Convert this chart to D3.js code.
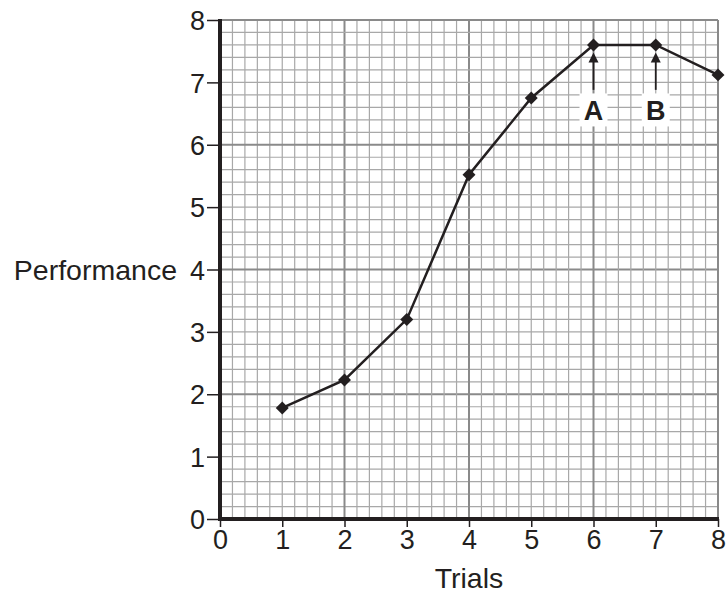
<!DOCTYPE html>
<html>
<head>
<meta charset="utf-8">
<script src="https://cdn.jsdelivr.net/npm/d3@7"></script>
<style>
  body { margin: 0; background: #fff; }
  svg { display: block; font-family: "Liberation Sans", Arial, sans-serif; }
</style>
</head>
<body>
<svg id="chart" width="727" height="594"></svg>
<script>
const trials = [1, 2, 3, 4, 5, 6, 7, 8];
const performance = [1.78, 2.23, 3.2, 5.52, 6.75, 7.6, 7.6, 7.12];
const xTicks = [0, 1, 2, 3, 4, 5, 6, 7, 8];
const yTicks = [0, 1, 2, 3, 4, 5, 6, 7, 8];
const markers = [
  { label: "A", x: 6, tip: 7.48, tail: 6.88, text: 6.55 },
  { label: "B", x: 7, tip: 7.48, tail: 6.88, text: 6.55 }
];

const ink = "#231f20";
const svg = d3.select("#chart");
const x = d3.scaleLinear().domain([0, 8]).range([220, 718]);
const y = d3.scaleLinear().domain([0, 8]).range([519, 20]);

// graph paper: minor every 0.2, major every 2
const minor = d3.range(0, 8.001, 0.2).map(v => +v.toFixed(1));
const grid = svg.append("g");
minor.forEach(v => {
  const major = Math.abs(v % 2) < 1e-6 || Math.abs(v % 2 - 2) < 1e-6;
  const stroke = major ? "#8a8a8a" : "#a8a8a8";
  const sw = major ? 2 : 1.2;
  grid.append("line")
    .attr("x1", x(v)).attr("x2", x(v)).attr("y1", y(0)).attr("y2", y(8))
    .attr("stroke", stroke).attr("stroke-width", sw);
  grid.append("line")
    .attr("x1", x(0)).attr("x2", x(8)).attr("y1", y(v)).attr("y2", y(v))
    .attr("stroke", stroke).attr("stroke-width", sw);
});

// axes
const xAxis = svg.append("g")
  .attr("transform", `translate(0,${y(0)})`)
  .call(d3.axisBottom(x).tickValues(xTicks).tickFormat(d3.format("d")).tickSize(8).tickPadding(3));
const yAxis = svg.append("g")
  .attr("transform", `translate(${x(0)},0)`)
  .call(d3.axisLeft(y).tickValues(yTicks).tickFormat(d3.format("d")).tickSize(13).tickPadding(2));

[xAxis, yAxis].forEach(g => {
  g.select(".domain").remove();
  g.selectAll(".tick line").attr("stroke", ink).attr("stroke-width", 1.5);
  g.selectAll(".tick text").attr("fill", ink).style("font-size", "27px");
});
yAxis.selectAll(".tick text").attr("dy", "0.36em");

svg.append("line")
  .attr("x1", x(0)).attr("x2", x(0)).attr("y1", y(8) - 1).attr("y2", y(0) + 2)
  .attr("stroke", ink).attr("stroke-width", 4);
svg.append("line")
  .attr("x1", x(0) - 2).attr("x2", x(8) + 1).attr("y1", y(0)).attr("y2", y(0))
  .attr("stroke", ink).attr("stroke-width", 4);

// axis titles
svg.append("text")
  .attr("x", x(4)).attr("y", 588)
  .attr("text-anchor", "middle")
  .attr("fill", ink).style("font-size", "28.5px")
  .text("Trials");
svg.append("text")
  .attr("x", 177).attr("y", y(4))
  .attr("dy", "0.36em")
  .attr("text-anchor", "end")
  .attr("fill", ink).style("font-size", "28.5px")
  .text("Performance");

// data line
const pts = trials.map((t, i) => [t, performance[i]]);
svg.append("path")
  .datum(pts)
  .attr("fill", "none")
  .attr("stroke", ink)
  .attr("stroke-width", 2.5)
  .attr("d", d3.line().x(d => x(d[0])).y(d => y(d[1])));

svg.append("g").selectAll("path")
  .data(pts)
  .join("path")
  .attr("transform", d => `translate(${x(d[0])},${y(d[1])}) rotate(45)`)
  .attr("d", d3.symbol(d3.symbolSquare, 84))
  .attr("fill", ink);

// A / B markers
const mk = svg.append("g").selectAll("g").data(markers).join("g");
mk.append("line")
  .attr("x1", d => x(d.x)).attr("x2", d => x(d.x))
  .attr("y1", d => y(d.tail)).attr("y2", d => y(d.tip) + 8)
  .attr("stroke", ink).attr("stroke-width", 1.8);
mk.append("path")
  .attr("d", d => {
    const cx = x(d.x), ty = y(d.tip);
    return `M${cx},${ty} L${cx - 5},${ty + 10} L${cx + 5},${ty + 10} Z`;
  })
  .attr("fill", ink);
mk.append("rect")
  .attr("x", d => x(d.x) - 14).attr("y", d => y(d.text) - 17)
  .attr("width", 28).attr("height", 33)
  .attr("fill", "#fff");
mk.append("text")
  .attr("x", d => x(d.x)).attr("y", d => y(d.text))
  .attr("dy", "0.36em")
  .attr("text-anchor", "middle")
  .attr("fill", ink)
  .style("font-size", "27px").style("font-weight", "bold")
  .text(d => d.label);
</script>
</body>
</html>
